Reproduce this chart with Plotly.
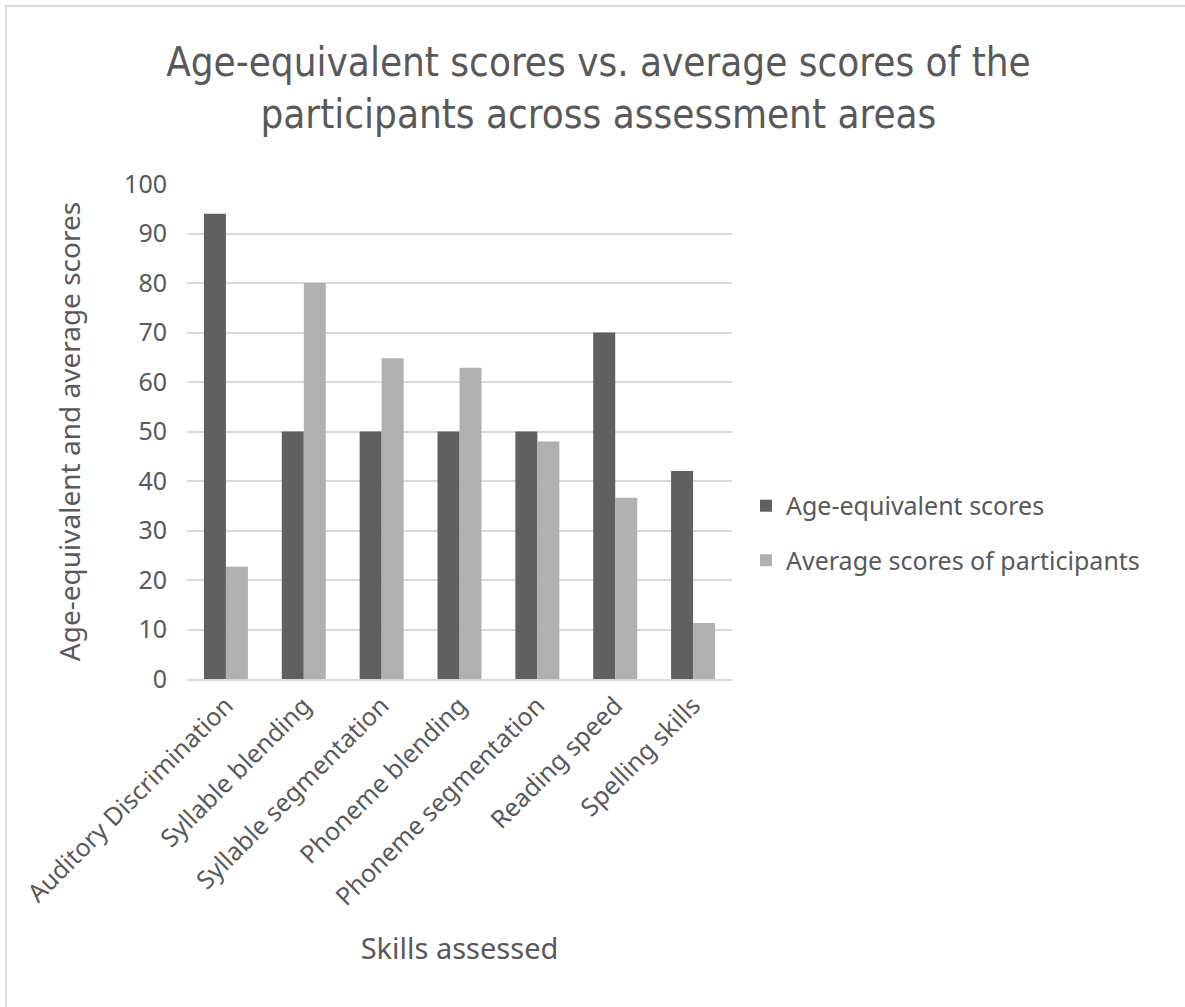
import plotly.graph_objects as go

categories = ["Auditory Discrimination", "Syllable blending", "Syllable segmentation",
              "Phoneme blending", "Phoneme segmentation", "Reading speed", "Spelling skills"]
age_equivalent = [94, 50, 50, 50, 50, 70, 42]
average_participants = [22.7, 80, 64.8, 62.9, 48, 36.6, 11.3]
y_ticks = [0, 10, 20, 30, 40, 50, 60, 70, 80, 90, 100]

TXT = "#595959"
NARROW = "Liberation Sans Narrow, DejaVu Sans Condensed, Roboto, sans-serif"
REG = "Noto Sans, Open Sans, sans-serif"

fig = go.Figure()
fig.add_trace(go.Bar(x=categories, y=age_equivalent, name="Age-equivalent scores",
                     marker=dict(color="#606060", line=dict(width=0)), legendgroup="a"))
fig.add_trace(go.Bar(x=categories, y=average_participants, name="Average scores of participants",
                     marker=dict(color="#b0b0b0", line=dict(width=0)), legendgroup="b"))

fig.update_layout(
    width=1185, height=1007,
    margin=dict(l=187, r=453, t=184, b=328),
    paper_bgcolor="white", plot_bgcolor="white",
    barmode="group", bargap=0.435, bargroupgap=0,
    title=dict(text="Age-equivalent scores vs. average scores of the<br>participants across assessment areas",
               x=0.505, xanchor="center", y=0.925, yanchor="top",
               font=dict(family=NARROW, size=40, color=TXT)),
    font=dict(family=REG, color=TXT),
    legend=dict(x=1.0257, xanchor="left", y=0.295, yanchor="middle",
                font=dict(family=REG, size=25, color=TXT),
                traceorder="grouped", tracegroupgap=19, bgcolor="rgba(0,0,0,0)"),
    shapes=[dict(type="rect", xref="paper", yref="paper",
                 x0=-181/545, x1=1010/545, y0=-340/495, y1=(679-6)/495,
                 line=dict(color="#d9d9d9", width=2), fillcolor="rgba(0,0,0,0)", layer="below")],
)
fig.update_yaxes(range=[0, 100], tickvals=y_ticks, showgrid=True, gridcolor="#d9d9d9", gridwidth=2,
                 zeroline=False, showline=False, ticks="", automargin=False,
                 tickfont=dict(family=REG, size=25, color=TXT), ticklabelstandoff=19,
                 title=dict(text="Age-equivalent and average scores", standoff=35,
                            font=dict(family=REG, size=28, color=TXT)))
fig.update_xaxes(showline=True, linecolor="#d9d9d9", linewidth=2, ticks="", tickangle=-45,
                 automargin=False,
                 tickfont=dict(family=REG, size=25, color=TXT),
                 title=dict(text="Skills assessed", standoff=28,
                            font=dict(family=REG, size=29, color=TXT)))

fig.write_html("out.html")
